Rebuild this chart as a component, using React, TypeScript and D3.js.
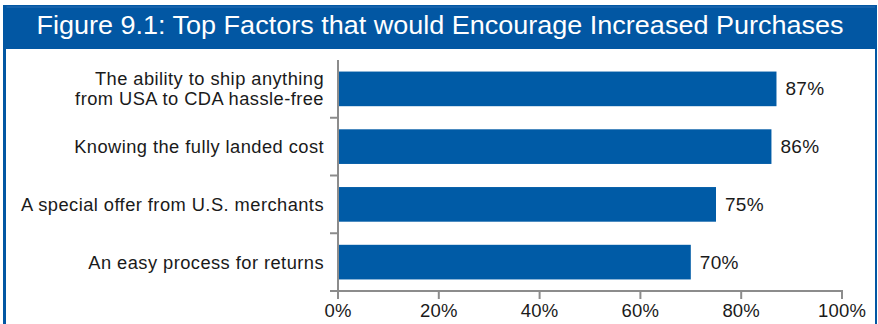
import React from "react";
import * as d3 from "d3";

const categories = [
  ["The ability to ship anything", "from USA to CDA hassle-free"],
  ["Knowing the fully landed cost"],
  ["A special offer from U.S. merchants"],
  ["An easy process for returns"],
];
const values = [87, 86, 75, 70];
const xTicks = [0, 20, 40, 60, 80, 100];
const title = "Figure 9.1: Top Factors that would Encourage Increased Purchases";

const W = 878;
const H = 324;
const BLUE = "#005BA6";
const FRAME = "#0257A3";
const AXIS = "#8C8C8C";
const FONT = "'Liberation Sans', Arial, Helvetica, sans-serif";

export default function App() {
  const x = d3.scaleLinear().domain([0, 100]).range([338, 842]);
  const ids = categories.map((_, i) => String(i));
  const y = d3.scaleBand<string>().domain(ids).range([60, 291]).paddingInner(0.4).paddingOuter(0.2);
  const step = y.step();
  const yTickPos = ids.map((_, i) => 60 + (i + 1) * step);

  return (
    <div style={{ position: "absolute", left: 0, top: 0, width: W, height: H }}>
      <svg width={W} height={H} style={{ display: "block", fontFamily: FONT }}>
        <rect x={0} y={0} width={W} height={H} fill="#fff" />
        <rect x={3} y={5} width={874} height={44} fill={FRAME} />
        <line x1={6.5} y1={7} x2={875} y2={7} stroke="#2A6FB3" strokeWidth={1} />
        <rect x={3} y={5} width={3} height={H - 5} fill={FRAME} />
        <rect x={875} y={5} width={2} height={H - 5} fill={FRAME} />
        <text
          x={440}
          y={33.5}
          textAnchor="middle"
          fill="#fff"
          fontSize={25.5}
          textLength={807}
          lengthAdjust="spacingAndGlyphs"
        >
          {title}
        </text>

        {values.map((v, i) => (
          <rect
            key={i}
            x={x(0)}
            y={y(String(i)) as number}
            width={x(v) - x(0)}
            height={y.bandwidth()}
            fill={BLUE}
          />
        ))}
        {values.map((v, i) => (
          <text
            key={"v" + i}
            x={x(v) + 9}
            y={(y(String(i)) as number) + y.bandwidth() / 2 + 6.5}
            fontSize={19}
            letterSpacing={0.3}
            fill="#1a1a1a"
          >
            {v + "%"}
          </text>
        ))}

        {categories.map((lines, i) => {
          const cy = (y(String(i)) as number) + y.bandwidth() / 2;
          const lh = 20;
          const start = cy + 6.5 - ((lines.length - 1) * lh) / 2;
          return (
            <text key={"c" + i} textAnchor="end" fontSize={18.3} letterSpacing={0.45} fill="#1a1a1a">
              {lines.map((l, j) => (
                <tspan key={j} x={324} y={start + j * lh}>
                  {l}
                </tspan>
              ))}
            </text>
          );
        })}

        <line x1={x(0)} y1={60} x2={x(0)} y2={291} stroke={AXIS} strokeWidth={2} />
        {yTickPos.map((p, i) => (
          <line key={"yt" + i} x1={330} y1={p} x2={x(0)} y2={p} stroke={AXIS} strokeWidth={2} />
        ))}

        <line x1={x(0) - 1} y1={291} x2={x(100) + 1} y2={291} stroke={AXIS} strokeWidth={2} />
        {xTicks.map((t) => (
          <g key={"xt" + t}>
            <line x1={x(t)} y1={291} x2={x(t)} y2={299} stroke={AXIS} strokeWidth={2} />
            <text x={x(t)} y={317} textAnchor="middle" fontSize={18.5} letterSpacing={0.2} fill="#1a1a1a">
              {t + "%"}
            </text>
          </g>
        ))}
      </svg>
    </div>
  );
}
